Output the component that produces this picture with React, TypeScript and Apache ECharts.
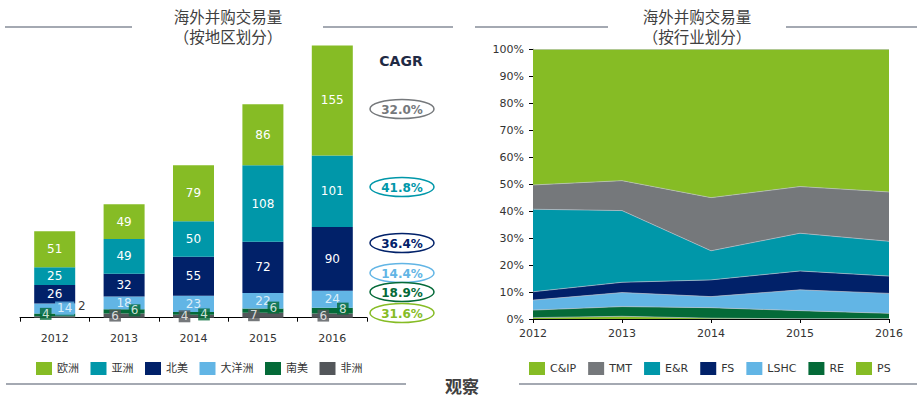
import React, { useEffect, useRef } from "react";
import * as echarts from "echarts";

const years = ["2012", "2013", "2014", "2015", "2016"];

// Left chart: deal counts by region (stack order bottom -> top)
const africa = [2, 6, 4, 7, 6];
const southAmerica = [4, 6, 4, 6, 8];
const oceania = [14, 18, 23, 22, 24];
const northAmerica = [26, 32, 55, 72, 90];
const asia = [25, 49, 50, 108, 101];
const europe = [51, 49, 79, 86, 155];

// CAGR labels (top -> bottom)
const cagrLabels = ["32.0%", "41.8%", "36.4%", "14.4%", "18.9%", "31.6%"];

// Right chart: share by industry, % (stack order bottom -> top)
const ps = [0.5, 1.0, 0.3, 0.1, 0.1];
const re = [2.8, 3.6, 3.9, 3.0, 2.0];
const lshc = [3.7, 5.2, 4.1, 7.7, 7.4];
const fs = [3.1, 3.8, 6.2, 7.0, 6.4];
const er = [30.6, 26.6, 10.8, 14.0, 12.9];
const tmt = [9.0, 11.1, 19.7, 17.3, 18.3];
const cip = [50.3, 48.7, 55.0, 50.9, 52.9];

const regionLegend = ["欧洲", "亚洲", "北美", "大洋洲", "南美", "非洲"];
const industryLegend = ["C&IP", "TMT", "E&R", "FS", "LSHC", "RE", "PS"];

const GREEN = "#86BC25";
const TEAL = "#0097A9";
const NAVY = "#012169";
const LBLUE = "#62B5E5";
const DGREEN = "#046A38";
const DGRAY = "#53565A";
const MGRAY = "#75787B";

const FONT = "'DejaVu Sans', 'Noto Sans CJK SC', sans-serif";
const CJK = "'Noto Sans CJK SC', sans-serif";

export default function App() {
  const ref = useRef<HTMLDivElement>(null);
  useEffect(() => {
    if (!ref.current) return;
    const chart = echarts.init(ref.current, null, { renderer: "svg" });

    const whiteLabel = {
      show: true,
      position: "inside",
      color: "#fff",
      fontSize: 12,
      fontFamily: FONT,
    };

    const greenOffsets = [
      [-9, -1],
      [10.5, -1],
      [10.5, 1],
      [10.5, -3],
      [10.5, -2],
    ];

    const barBase = {
      type: "bar",
      stack: "region",
      xAxisIndex: 0,
      yAxisIndex: 0,
      barWidth: 41,
    };

    // label-only overlay drawn above every bar, positioned at segment centres
    const overlay = (data: any[], label: any, z: number) => ({
      type: "scatter",
      xAxisIndex: 0,
      yAxisIndex: 0,
      silent: true,
      symbolSize: 1,
      itemStyle: { color: "rgba(0,0,0,0)" },
      z,
      data,
      label: {
        show: true,
        position: "inside",
        color: "#fff",
        fontSize: 12,
        fontFamily: FONT,
        formatter: (p: any) => String(p.value[2]),
        ...label,
      },
    });

    const areaBase = (name: string, data: number[], color: string) => ({
      name,
      type: "line",
      stack: "industry",
      xAxisIndex: 1,
      yAxisIndex: 1,
      symbol: "none",
      data,
      itemStyle: { color },
      lineStyle: { width: 0.8, color: "rgba(190,195,205,0.8)" },
      areaStyle: { color, opacity: 1 },
    });

    const cagrColors = [MGRAY, TEAL, NAVY, LBLUE, DGREEN, GREEN];
    const cagrY = [109, 187, 243, 273, 292, 313];

    const graphics: any[] = [];
    const titleLine = (x1: number, x2: number, y: number) => ({
      type: "line",
      shape: { x1, y1: y, x2, y2: y },
      style: { stroke: "#4a5466", lineWidth: 1.2 },
    });
    graphics.push(titleLine(5, 132, 27), titleLine(323, 453, 27));
    graphics.push(titleLine(475, 608, 27), titleLine(786, 917, 27));
    graphics.push(titleLine(6, 406, 384), titleLine(519, 917, 384));
    const titleText = (x: number, y: number, text: string, size = 15.5, weight = "normal") => ({
      type: "text",
      x,
      y,
      style: {
        text,
        fill: "#404040",
        font: `${weight} ${size}px ${CJK}`,
        textAlign: "center",
        textVerticalAlign: "middle",
      },
    });
    graphics.push(titleText(228, 16, "海外并购交易量"), titleText(228, 36, "（按地区划分）"));
    graphics.push(titleText(697, 16, "海外并购交易量"), titleText(697, 36, "（按行业划分）"));
    graphics.push(titleText(462, 385, "观察", 17, "bold"));
    graphics.push({
      type: "text",
      x: 401,
      y: 61,
      style: {
        text: "CAGR",
        fill: "#1f2a44",
        font: `bold 14px ${FONT}`,
        textAlign: "center",
        textVerticalAlign: "middle",
      },
    });
    cagrLabels.forEach((t, i) => {
      graphics.push({
        type: "ellipse",
        shape: { cx: 402, cy: cagrY[i], rx: 32, ry: 9.5 },
        style: { fill: "#fff", stroke: cagrColors[i], lineWidth: 1.5 },
        z: 10,
      });
      graphics.push({
        type: "text",
        x: 402,
        y: cagrY[i] + 0.5,
        z: 11,
        style: {
          text: t,
          fill: cagrColors[i],
          font: `bold 12px ${FONT}`,
          textAlign: "center",
          textVerticalAlign: "middle",
        },
      });
    });

    const africaLabelData = africa.map((v, i) =>
      i === 0
        ? {
            value: [years[i], v / 2, v],
            label: {
              color: "#000",
              backgroundColor: "transparent",
              offset: [27, -11],
            },
          }
        : { value: [years[i], v / 2, v] }
    );
    const southLabelData = southAmerica.map((v, i) => ({
      value: [years[i], africa[i] + v / 2, v],
      label: { offset: greenOffsets[i] },
    }));
    const oceaniaLabelData = oceania.map((v, i) =>
      i === 0
        ? {
            value: [years[i], africa[i] + southAmerica[i] + v / 2, v],
            label: {
              backgroundColor: LBLUE,
              padding: [1, 2, 1, 2],
              offset: [10, 0],
            },
          }
        : { value: [years[i], africa[i] + southAmerica[i] + v / 2, v] }
    );

    const option: any = {
      animation: false,
      backgroundColor: "#fff",
      textStyle: { fontFamily: FONT },
      grid: [
        { left: 20, right: 550, top: 20, bottom: 79.3 },
        { left: 533, right: 28, top: 49.3, bottom: 78 },
      ],
      legend: [
        {
          data: regionLegend,
          left: 31,
          top: 357,
          itemWidth: 16,
          itemHeight: 13,
          itemGap: 11.5,
          icon: "rect",
          textStyle: { fontSize: 11, color: "#333", fontFamily: FONT },
        },
        {
          data: industryLegend,
          left: 524,
          top: 357,
          itemWidth: 16,
          itemHeight: 13,
          itemGap: 12,
          icon: "rect",
          textStyle: { fontSize: 11, color: "#333", fontFamily: FONT },
        },
      ],
      xAxis: [
        {
          type: "category",
          gridIndex: 0,
          data: years,
          axisLine: { lineStyle: { color: "#000", width: 1 } },
          axisTick: { show: true, length: 4, lineStyle: { color: "#000" } },
          axisLabel: { fontSize: 11, color: "#333", margin: 15, fontFamily: FONT },
        },
        {
          type: "category",
          gridIndex: 1,
          data: years,
          boundaryGap: false,
          axisLine: { lineStyle: { color: "#000", width: 1 } },
          axisTick: { show: true, length: 4, lineStyle: { color: "#000" } },
          axisLabel: { fontSize: 11, color: "#333", margin: 9, fontFamily: FONT },
        },
      ],
      yAxis: [
        { type: "value", gridIndex: 0, min: 0, max: 420, show: false },
        {
          type: "value",
          gridIndex: 1,
          min: 0,
          max: 100,
          interval: 10,
          axisLine: { show: true, lineStyle: { color: "#000", width: 1 } },
          axisTick: { show: true, length: 4, lineStyle: { color: "#000" } },
          splitLine: { show: false },
          axisLabel: {
            formatter: "{value}%",
            fontSize: 11,
            color: "#333",
            margin: 9,
            fontFamily: FONT,
          },
        },
      ],
      series: [
        { ...barBase, name: "非洲", itemStyle: { color: DGRAY }, data: africa },
        { ...barBase, name: "南美", itemStyle: { color: DGREEN }, data: southAmerica },
        { ...barBase, name: "大洋洲", itemStyle: { color: LBLUE }, data: oceania },
        {
          ...barBase,
          name: "北美",
          itemStyle: { color: NAVY },
          data: northAmerica,
          label: whiteLabel,
        },
        {
          ...barBase,
          name: "亚洲",
          itemStyle: { color: TEAL },
          data: asia,
          label: whiteLabel,
        },
        {
          ...barBase,
          name: "欧洲",
          itemStyle: { color: GREEN },
          data: europe,
          label: whiteLabel,
        },
        overlay(oceaniaLabelData, {}, 10),
        overlay(
          southLabelData,
          { backgroundColor: DGREEN, padding: [0, 2, 0, 2] },
          11
        ),
        overlay(
          africaLabelData,
          { backgroundColor: DGRAY, padding: [0, 2, 0, 2], offset: [-9, 0] },
          12
        ),
        areaBase("PS", ps, GREEN),
        areaBase("RE", re, DGREEN),
        areaBase("LSHC", lshc, LBLUE),
        areaBase("FS", fs, NAVY),
        areaBase("E&R", er, TEAL),
        areaBase("TMT", tmt, MGRAY),
        areaBase("C&IP", cip, GREEN),
      ],
      graphic: graphics,
    };

    chart.setOption(option);
    return () => chart.dispose();
  }, []);

  return (
    <div
      ref={ref}
      style={{ position: "fixed", left: 0, top: 0, width: 917, height: 397 }}
    />
  );
}
